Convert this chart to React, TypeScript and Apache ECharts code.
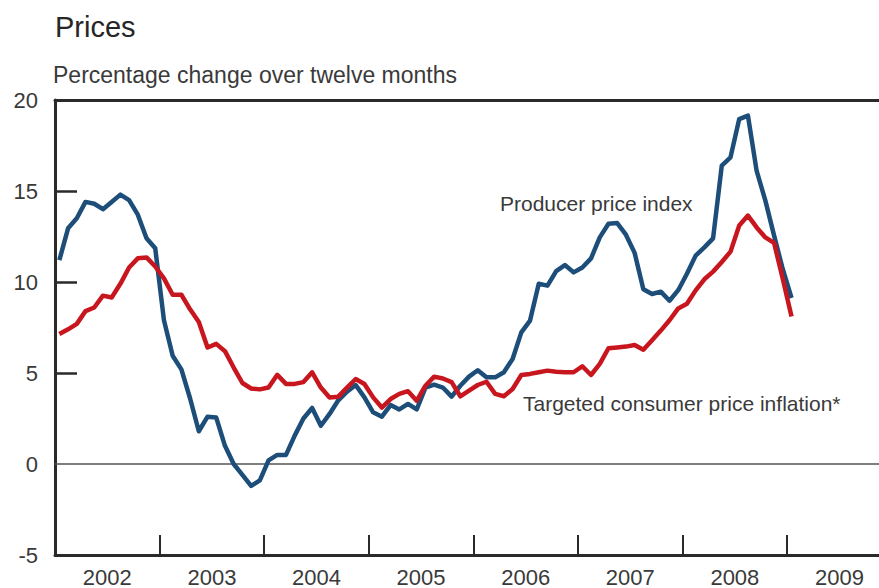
import React, { useEffect, useRef } from "react";
import * as echarts from "echarts";

// Monthly observations, January 2002 to January 2009 (percentage change over twelve months)
const startYear = 2002;

const producerPriceIndex = [
  // 2002
  11.2, 12.95, 13.5, 14.4, 14.3, 14.0, 14.4, 14.8, 14.5, 13.7, 12.4, 11.85,
  // 2003
  7.9, 5.95, 5.2, 3.6, 1.8, 2.6, 2.55, 1.0, 0.0, -0.6, -1.2, -0.9,
  // 2004
  0.2, 0.5, 0.5, 1.56, 2.5, 3.08, 2.1, 2.75, 3.5, 3.97, 4.34, 3.66,
  // 2005
  2.84, 2.6, 3.24, 3.0, 3.3, 3.0, 4.2, 4.36, 4.2, 3.7, 4.3, 4.8,
  // 2006
  5.15, 4.76, 4.76, 5.04, 5.77, 7.23, 7.88, 9.9, 9.8, 10.6, 10.93, 10.53,
  // 2007
  10.8, 11.3, 12.45, 13.2, 13.24, 12.6, 11.6, 9.6, 9.34, 9.47, 8.97, 9.55,
  // 2008
  10.45, 11.45, 11.9, 12.4, 16.4, 16.85, 18.95, 19.14, 16.1, 14.47, 12.55, 10.7,
  // 2009
  9.12,
];

const targetedCpi = [
  // 2002
  7.14, 7.4, 7.7, 8.4, 8.6, 9.25, 9.15, 9.9, 10.8, 11.3, 11.35, 10.85,
  // 2003
  10.2, 9.3, 9.3, 8.5, 7.8, 6.4, 6.6, 6.2, 5.3, 4.45, 4.15, 4.1,
  // 2004
  4.2, 4.9, 4.4, 4.4, 4.5, 5.04, 4.2, 3.66, 3.7, 4.2, 4.67, 4.4,
  // 2005
  3.66, 3.1, 3.57, 3.85, 4.0, 3.48, 4.3, 4.8, 4.7, 4.5, 3.72, 4.03,
  // 2006
  4.34, 4.52, 3.85, 3.72, 4.12, 4.89, 4.95, 5.04, 5.13, 5.07, 5.04, 5.04,
  // 2007
  5.37, 4.89, 5.5, 6.36, 6.4, 6.45, 6.54, 6.28, 6.8, 7.33, 7.9, 8.55,
  // 2008
  8.8, 9.54, 10.15, 10.57, 11.1, 11.67, 13.1, 13.65, 13.0, 12.45, 12.15, 10.16,
  // 2009
  8.1,
];

const yearTicks = [2003, 2004, 2005, 2006, 2007, 2008, 2009];
const yearLabelPositions = [2002.5, 2003.5, 2004.5, 2005.5, 2006.5, 2007.5, 2008.5, 2009.5];
const yTickMarks = [5, 10, 15];

const titleText = "Prices";
const subtitleText = "Percentage change over twelve months";
const ppiLabel = "Producer price index";
const cpiLabel = "Targeted consumer price inflation*";

const FONT = "'Liberation Sans', Arial, Helvetica, sans-serif";
const TEXT_COLOR = "#3a3a3a";
const AXIS_COLOR = "#2a2a2a";
const BLUE = "#1c4e79";
const RED = "#c8161f";

const toPoints = (values: number[]) =>
  values.map((v, i) => [startYear + (i + 0.5) / 12, v]);

export default function App() {
  const ref = useRef<HTMLDivElement>(null);

  useEffect(() => {
    if (!ref.current) return;
    const chart = echarts.init(ref.current, undefined, { renderer: "svg" });
    const xMin = 2002;
    const xMax = 2009.878;
    chart.setOption({
      animation: false,
      backgroundColor: "#ffffff",
      textStyle: { fontFamily: FONT },
      title: [
        {
          text: titleText,
          left: 55,
          top: 12,
          padding: 0,
          textStyle: { fontFamily: FONT, fontSize: 29, fontWeight: "normal", color: "#262626" },
        },
        {
          text: subtitleText,
          left: 53,
          top: 63,
          padding: 0,
          textStyle: { fontFamily: FONT, fontSize: 23, fontWeight: "normal", color: TEXT_COLOR },
        },
      ],
      grid: { left: 55, right: 0, top: 100, bottom: 32, containLabel: false },
      xAxis: [
        {
          type: "value",
          min: xMin,
          max: xMax,
          position: "bottom",
          axisLine: { show: true, onZero: false, lineStyle: { color: AXIS_COLOR, width: 3 } },
          axisTick: {
            show: true,
            inside: true,
            length: 20,
            customValues: yearTicks,
            lineStyle: { color: AXIS_COLOR, width: 2 },
          },
          axisLabel: {
            show: true,
            customValues: yearLabelPositions,
            formatter: (v: number) => String(Math.floor(v)),
            fontFamily: FONT,
            fontSize: 22,
            color: TEXT_COLOR,
            margin: 11,
          },
          splitLine: { show: false },
        },
        {
          type: "value",
          min: xMin,
          max: xMax,
          position: "top",
          axisLine: { show: true, onZero: false, lineStyle: { color: AXIS_COLOR, width: 3 } },
          axisTick: { show: false },
          axisLabel: { show: false },
          splitLine: { show: false },
        },
      ],
      yAxis: {
        type: "value",
        min: -5,
        max: 20,
        interval: 5,
        axisLine: { show: true, onZero: false, lineStyle: { color: AXIS_COLOR, width: 3 } },
        axisTick: {
          show: true,
          inside: true,
          length: 22,
          customValues: yTickMarks,
          lineStyle: { color: AXIS_COLOR, width: 2.5 },
        },
        axisLabel: { fontFamily: FONT, fontSize: 22, color: TEXT_COLOR, margin: 17 },
        splitLine: { show: false },
      },
      series: [
        {
          name: ppiLabel,
          type: "line",
          xAxisIndex: 0,
          data: toPoints(producerPriceIndex),
          showSymbol: false,
          symbol: "none",
          lineStyle: { color: BLUE, width: 4.5, join: "round" },
          itemStyle: { color: BLUE },
          z: 3,
          markLine: {
            silent: true,
            symbol: ["none", "none"],
            label: { show: false },
            lineStyle: { color: "#555555", width: 1.5, type: "solid" },
            data: [{ yAxis: 0 }],
            z: 1,
          },
        },
        {
          name: cpiLabel,
          type: "line",
          xAxisIndex: 0,
          data: toPoints(targetedCpi),
          showSymbol: false,
          symbol: "none",
          lineStyle: { color: RED, width: 4.5, join: "round" },
          itemStyle: { color: RED },
          z: 4,
        },
      ],
      graphic: [
        {
          type: "text",
          left: 500,
          top: 193,
          silent: true,
          style: { text: ppiLabel, font: `21px ${FONT}`, fill: TEXT_COLOR },
        },
        {
          type: "text",
          left: 523,
          top: 393,
          silent: true,
          style: { text: cpiLabel, font: `21px ${FONT}`, fill: TEXT_COLOR },
        },
      ],
    });
    return () => chart.dispose();
  }, []);

  return (
    <div
      ref={ref}
      style={{ position: "fixed", left: 0, top: 0, width: 879, height: 588, background: "#fff" }}
    />
  );
}
